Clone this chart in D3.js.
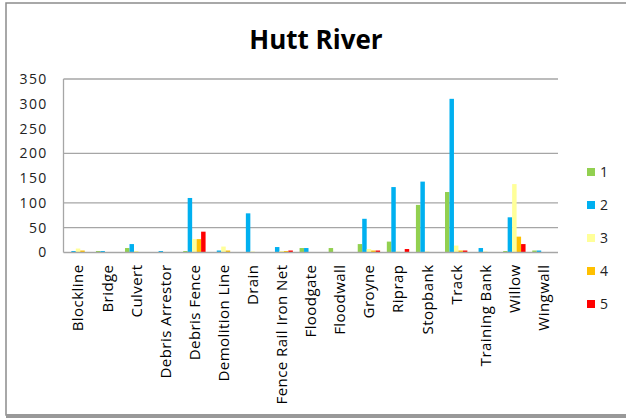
<!DOCTYPE html>
<html><head><meta charset="utf-8">
<script src="https://cdn.jsdelivr.net/npm/d3@7"></script>
<style>html,body{margin:0;padding:0;background:#fff;} svg{display:block;}</style>
</head><body>
<svg id="chart" width="626" height="418"></svg>
<script>
const categories = ["Blockline","Bridge","Culvert","Debris Arrestor","Debris Fence","Demolition Line","Drain","Fence Rail Iron Net","Floodgate","Floodwall","Groyne","Riprap","Stopbank","Track","Training Bank","Willow","Wingwall"];
const seriesNames = ["1","2","3","4","5"];
const s1 = [0,3,9,0,3,0,0,0,9,9,17,22,96,122,0,3,4];
const s2 = [3,3,17,3,110,4,79,11,9,0,68,132,143,310,9,71,4];
const s3 = [8,0,3,0,27,12,2,3,0,0,7,2,2,14,2,138,0];
const s4 = [4,0,0,0,27,4,0,3,0,0,4,0,0,4,0,32,0];
const s5 = [0,0,0,0,42,0,0,4,0,0,4,7,0,4,0,17,0];
const colors = ["#92D050","#00B0F0","#FFFF99","#FFC000","#FF0000"];
const yTicks = [0,50,100,150,200,250,300,350];
const gridValues = [50,100,200,350];

(function(){
const seriesData = [s1,s2,s3,s4,s5];
const svg = d3.select("#chart");
const font = "'Open Sans', Lato, sans-serif";

svg.append("rect").attr("x",6).attr("y",3).attr("width",640).attr("height",412)
  .attr("fill","none").attr("stroke","#8c8c8c").attr("stroke-width",1.5);
svg.append("rect").attr("x",6).attr("y",414).attr("width",620).attr("height",4).attr("fill","#999");

const pL = 63.5, pR = 558, pT = 79, pB = 252.5;
const x = d3.scaleBand().domain(categories).range([pL,pR]).padding(0);
const gw = x.bandwidth()*5/6.5;
const inner = d3.scaleBand().domain(seriesNames)
  .range([(x.bandwidth()-gw)/2,(x.bandwidth()+gw)/2]).padding(0);
const y = d3.scaleLinear().domain([0,350]).range([pB,pT]);

svg.append("g").selectAll("line").data(gridValues).join("line")
  .attr("x1",pL).attr("x2",pR).attr("y1",d=>y(d)).attr("y2",d=>y(d))
  .attr("stroke","#a6a6a6").attr("stroke-width",1.3);

seriesData.forEach((arr,si)=>{
  svg.append("g").selectAll("rect").data(arr).join("rect")
    .attr("x",(d,i)=>x(categories[i])+inner(seriesNames[si]))
    .attr("width",inner.bandwidth())
    .attr("y",d=>y(d)).attr("height",d=>pB-y(d))
    .attr("fill",colors[si]);
});

svg.append("line").attr("x1",pL).attr("x2",pL).attr("y1",pT).attr("y2",pB).attr("stroke","#a6a6a6").attr("stroke-width",1.3);
svg.append("line").attr("x1",pL).attr("x2",pR).attr("y1",pB).attr("y2",pB).attr("stroke","#a6a6a6").attr("stroke-width",1.3);

const yAxis = d3.axisLeft(y).tickValues(yTicks).tickSize(0).tickPadding(16);
const yg = svg.append("g").attr("transform",`translate(${pL},0)`).call(yAxis);
yg.select(".domain").remove();
yg.selectAll("text").attr("font-family",font).attr("font-size",14).attr("letter-spacing",1.3).attr("fill","#222");

const xAxis = d3.axisBottom(x).tickSize(0).tickPadding(0);
const xg = svg.append("g").attr("transform",`translate(0,${pB})`).call(xAxis);
xg.select(".domain").remove();
xg.selectAll("text").attr("font-family",font).attr("font-size",15).attr("letter-spacing",0.45).attr("fill","#000")
  .attr("transform","rotate(-90)").attr("text-anchor","end").attr("dy","0.36em").attr("x",-12).attr("y",0);

svg.append("text").attr("x",316).attr("y",49).attr("text-anchor","middle")
  .attr("font-family",font).attr("font-weight","bold").attr("font-size",26).text("Hutt River");

const lg = svg.append("g").selectAll("g").data(seriesNames).join("g")
  .attr("transform",(d,i)=>`translate(587,${172+i*33})`);
lg.append("rect").attr("x",0).attr("y",-4).attr("width",8).attr("height",8).attr("fill",(d,i)=>colors[i]);
lg.append("text").attr("x",13).attr("y",0).attr("dy","0.36em").attr("font-family",font).attr("font-size",14).attr("fill","#222").text(d=>d);
})();
</script>
</body></html>
